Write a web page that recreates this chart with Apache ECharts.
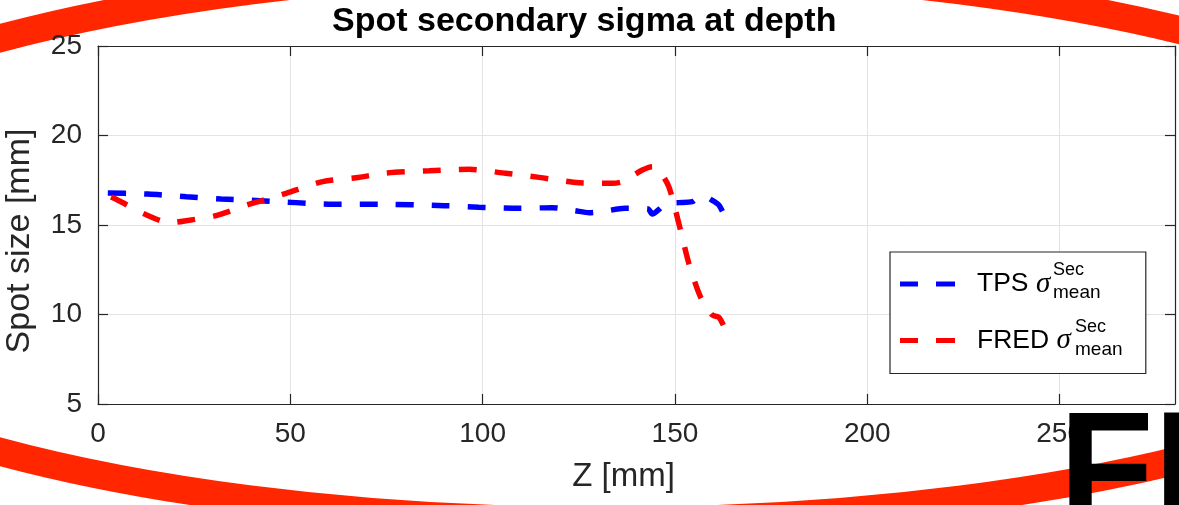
<!DOCTYPE html>
<html>
<head>
<meta charset="utf-8">
<script src="https://cdn.jsdelivr.net/npm/echarts@6/dist/echarts.min.js"></script>
<style>
html,body{margin:0;padding:0;background:#fff;}
#c{width:1179px;height:505px;}
</style>
</head>
<body>
<div id="c"></div>
<script>
// ---- data ----
const titleText = 'Spot secondary sigma at depth';
const xTicks = [0, 50, 100, 150, 200, 250];
const yTicks = [5, 10, 15, 20, 25];
const tpsZ = [0, 13, 23, 32, 42, 51.5, 61, 73, 90, 99, 109.5, 118, 124, 127.7, 131, 137, 143, 144.1, 146, 147.6, 151, 154.5, 156.2, 157.5, 159.5, 161.4, 162.7];
const tpsY = [16.8, 16.73, 16.58, 16.45, 16.36, 16.25, 16.16, 16.16, 16.08, 15.99, 15.93, 15.97, 15.8, 15.69, 15.75, 15.93, 15.9, 15.61, 15.9, 16.21, 16.25, 16.3, 16.58, 16.62, 16.4, 16.12, 15.6];
const fredZ = [0, 4.7, 12.1, 18.6, 22.9, 30.7, 39.4, 48.9, 58.4, 67.1, 74.9, 86.1, 96.5, 106, 114.7, 125, 133.7, 136.3, 141.5, 144.1, 145.5, 148.4, 151, 153.6, 156.6, 159.7, 161.4, 162.7];
const fredY = [16.85, 16.44, 15.61, 15.13, 15.24, 15.52, 16.16, 16.77, 17.42, 17.64, 17.9, 18.03, 18.11, 17.89, 17.66, 17.36, 17.33, 17.42, 18.07, 18.26, 18.17, 17.14, 15.09, 12.86, 11.0, 9.97, 9.85, 9.35];
const seriesNames = ['TPS', 'FRED'];

const zip = (a, b) => a.map((v, i) => [v, b[i]]);
const axisColor = '#262626';
const gridColor = '#e3e3e3';
const font = 'Liberation Sans';
const dashIcon = 'path://M0 0h18v5H0zM36 0h19v5H36z';

const chart = echarts.init(document.getElementById('c'), null, {renderer: 'canvas'});
const xBase = {
  type: 'value', min: 0, max: 280, interval: 50,
  axisLine: {show: true, onZero: false, lineStyle: {color: axisColor, width: 1.2}},
  axisTick: {show: true, inside: true, length: 10, lineStyle: {color: axisColor, width: 1.2}}
};
const yBase = {
  type: 'value', min: 5, max: 25, interval: 5,
  axisLine: {show: true, onZero: false, lineStyle: {color: axisColor, width: 1.2}},
  axisTick: {show: true, inside: true, length: 10, lineStyle: {color: axisColor, width: 1.2}}
};
const option = {
  backgroundColor: '#fff',
  animation: false,
  title: {
    text: titleText, left: 327, top: 0,
    textStyle: {fontFamily: font, fontWeight: 'bold', fontSize: 34, color: '#000'}
  },
  grid: {left: 98, right: 4, top: 46, bottom: 101, containLabel: false, outerBoundsMode: 'none',
    show: true, backgroundColor: '#fff', borderWidth: 0, z: 0},
  xAxis: [
    Object.assign({}, xBase, {
      position: 'bottom',
      name: 'Z [mm]', nameLocation: 'middle', nameGap: 56,
      nameTextStyle: {fontFamily: font, fontSize: 33, color: axisColor, padding: [0, 26, 0, 0]},
      axisLabel: {show: true, margin: 16, fontFamily: font, fontSize: 28, color: axisColor, showMaxLabel: false,
        formatter: v => xTicks.indexOf(v) >= 0 ? String(v) : ''},
      splitLine: {show: true, lineStyle: {color: gridColor, width: 1}}
    }),
    Object.assign({}, xBase, {position: 'top', axisLabel: {show: false}, splitLine: {show: false}})
  ],
  yAxis: [
    Object.assign({}, yBase, {
      position: 'left',
      name: 'Spot size [mm]', nameLocation: 'middle', nameGap: 61,
      nameTextStyle: {fontFamily: font, fontSize: 34, color: axisColor, padding: [0, 32, 0, 0]},
      axisLabel: {show: true, margin: 16, fontFamily: font, fontSize: 28, color: axisColor,
        formatter: v => yTicks.indexOf(v) >= 0 ? String(v) : ''},
      splitLine: {show: true, lineStyle: {color: gridColor, width: 1}}
    }),
    Object.assign({}, yBase, {position: 'right', axisLabel: {show: false}, splitLine: {show: false}})
  ],
  legend: {
    show: true, orient: 'vertical', left: 890, top: 252,
    padding: [17, 75, 18, 10], itemGap: 26.5, itemWidth: 55, itemHeight: 5,
    backgroundColor: '#fff', borderColor: axisColor, borderWidth: 1.2, borderRadius: 0,
    data: seriesNames.map(n => ({name: n, icon: dashIcon})),
    formatter: name => name + ' {g|σ}',
    textStyle: {fontFamily: font, fontSize: 26.5, color: '#000', lineHeight: 30, padding: [0, 0, 0, 17],
      rich: {g: {fontFamily: 'Liberation Serif', fontStyle: 'italic', fontSize: 29, color: '#000', lineHeight: 30}}}
  },
  series: [
    {name: seriesNames[0], type: 'line', data: zip(tpsZ, tpsY), symbol: 'none', smooth: 0.25,
      lineStyle: {color: '#0000ff', width: 5.5, type: [18, 18], dashOffset: 26, cap: 'butt'}, itemStyle: {color: '#0000ff'}, z: 3},
    {name: seriesNames[1], type: 'line', data: zip(fredZ, fredY), symbol: 'none', smooth: 0.25,
      lineStyle: {color: '#ff0000', width: 5.5, type: [18, 18], dashOffset: 22, cap: 'butt'}, itemStyle: {color: '#ff0000'}, z: 4}
  ],
  graphic: [
    {type: 'ellipse', z: -10, silent: true,
      shape: {cx: 606, cy: 245, rx: 914, ry: 276},
      style: {fill: null, stroke: '#ff2600', lineWidth: 28}},
    {type: 'text', left: 1053, top: 261, z: 50, style: {text: 'Sec', fontFamily: font, fontSize: 18, fill: '#000'}},
    {type: 'text', left: 1053, top: 283, z: 50, style: {text: 'mean', fontFamily: font, fontSize: 19, fill: '#000'}},
    {type: 'text', left: 1075, top: 318, z: 50, style: {text: 'Sec', fontFamily: font, fontSize: 18, fill: '#000'}},
    {type: 'text', left: 1075, top: 340, z: 50, style: {text: 'mean', fontFamily: font, fontSize: 19, fill: '#000'}},
    {type: 'text', left: 1059, top: 400, z: 100, style: {text: 'FI', fontFamily: font, fontWeight: 'bold', fontSize: 155, fill: '#000'}}
  ]
};
chart.setOption(option);
</script>
</body>
</html>
